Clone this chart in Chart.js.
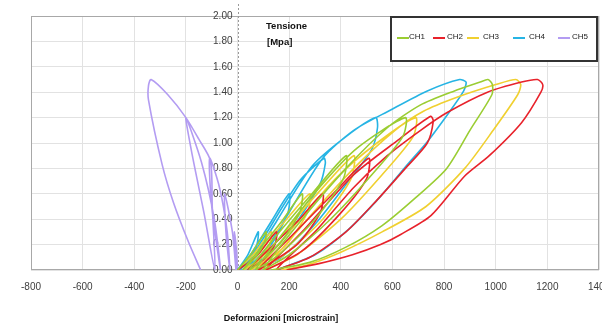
<!DOCTYPE html>
<html><head><meta charset="utf-8">
<script src="https://cdn.jsdelivr.net/npm/chart.js@4.4.1/dist/chart.umd.min.js"></script>
<style>
html,body{margin:0;padding:0;background:#fff;overflow:hidden;width:602px;height:325px;}
#wrap{position:absolute;left:0;top:0;width:612px;height:325px;}
.t{position:absolute;font-family:"Liberation Sans",Arial,sans-serif;color:#111;white-space:nowrap;}
#legend{position:absolute;left:390px;top:16px;width:204px;height:42px;border:2px solid #333;background:#fff;}
.li{position:absolute;top:19px;height:2px;}
.ll{position:absolute;top:14px;font-family:"Liberation Sans",Arial,sans-serif;font-size:8px;color:#222;}
</style></head>
<body>
<div id="wrap"><canvas id="c" width="612" height="325"></canvas></div>
<div class="t" style="left:266px;top:20px;font-size:9.5px;font-weight:bold;">Tensione</div>
<div class="t" style="left:267px;top:36px;font-size:9.5px;font-weight:bold;">[Mpa]</div>
<div class="t" style="left:281px;top:313px;font-size:9px;font-weight:bold;transform:translateX(-50%);">Deformazioni [microstrain]</div>
<div id="legend"></div>
<script>
const seriesNames = ["CH1","CH2","CH3","CH4","CH5"];
const seriesColors = ["#9acd32","#e8222b","#f0d030","#26b4e4","#b39cf2"];
const xTicks = [-800,-600,-400,-200,0,200,400,600,800,1000,1200,1400];
const yTicks = [0,0.2,0.4,0.6,0.8,1.0,1.2,1.4,1.6,1.8,2.0];
const yTickLabels = ["0.00","0.20","0.40","0.60","0.80","1.00","1.20","1.40","1.60","1.80","2.00"];

const ch1 = [[0,0],[50,0.12],[110,0.3],[105,0.22],[70,0.1],[20,0],
 [80,0.15],[170,0.38],[250,0.6],[240,0.45],[160,0.2],[45,0],
 [130,0.22],[280,0.58],[420,0.9],[410,0.72],[300,0.4],[160,0.12],[70,0],
 [180,0.3],[330,0.68],[463,0.96],[650,1.2],[640,1.05],[520,0.75],[360,0.4],[200,0.12],[100,0],
 [230,0.35],[420,0.8],[580,1.12],[709,1.3],[840,1.41],[940,1.48],[970,1.5],[987,1.46],
 [985,1.38],[900,1.1],[810,0.8],[690,0.57],[560,0.35],[420,0.18],[280,0.06],[130,0]];

const ch2 = [[0,0],[70,0.1],[150,0.3],[145,0.2],[100,0.08],[40,0],
 [130,0.18],[240,0.4],[330,0.6],[320,0.45],[230,0.2],[80,0],
 [200,0.25],[370,0.6],[508,0.88],[500,0.72],[400,0.45],[250,0.15],[110,0],
 [250,0.3],[450,0.75],[620,1.02],[748,1.21],[758,1.17],
 [735,1.0],[650,0.8],[540,0.55],[420,0.3],[280,0.1],[150,0],
 [300,0.3],[450,0.65],[580,0.9],[709,1.1],[812,1.24],[968,1.4],[1100,1.48],[1162,1.5],[1182,1.46],
 [1175,1.4],[1100,1.16],[975,0.9],[880,0.74],[750,0.43],[632,0.28],[554,0.2],[445,0.12],[315,0.05],[190,0]];

const ch3 = [[0,0],[60,0.12],[130,0.3],[125,0.2],[80,0.08],[25,0],
 [100,0.18],[190,0.4],[280,0.6],[270,0.45],[180,0.18],[50,0],
 [150,0.22],[300,0.58],[450,0.9],[440,0.72],[330,0.4],[180,0.12],[80,0],
 [200,0.3],[380,0.72],[540,1.0],[690,1.2],[680,1.05],[560,0.75],[400,0.4],[230,0.12],[110,0],
 [250,0.35],[450,0.8],[610,1.1],[720,1.25],[850,1.36],[1000,1.46],[1078,1.5],[1097,1.46],
 [1085,1.38],[990,1.1],[880,0.8],[730,0.5],[560,0.3],[400,0.14],[270,0.04],[170,0]];

const ch4 = [[0,0],[40,0.12],[80,0.3],[75,0.2],[45,0.08],[10,0],
 [60,0.15],[130,0.38],[200,0.6],[195,0.45],[130,0.2],[25,0],
 [100,0.25],[240,0.7],[335,0.88],[340,0.84],[320,0.68],[230,0.38],[120,0.12],[40,0],
 [150,0.38],[290,0.82],[420,1.05],[535,1.2],[542,1.12],[520,0.95],[430,0.7],[300,0.36],[170,0.1],[70,0],
 [190,0.42],[330,0.88],[450,1.1],[593,1.26],[735,1.41],[860,1.5],[885,1.48],
 [876,1.41],[826,1.26],[735,1.01],[658,0.83],[554,0.58],[430,0.32],[300,0.12],[150,0]];

const ch5 = [[0,0],[-4,0.15],[-12,0.3],[-10,0.15],[-6,0],
 [-20,0.3],[-50,0.6],[-45,0.3],[-30,0],
 [-40,0.3],[-70,0.65],[-108,0.88],[-100,0.5],[-66,0],
 [-90,0.4],[-140,0.85],[-200,1.2],[-175,0.9],[-130,0.45],[-88,0],
 [-98,0.5],[-105,0.86],[-150,1.03],[-200,1.2],[-270,1.38],[-335,1.5],[-345,1.45],
 [-345,1.34],[-292,0.83],[-248,0.53],[-190,0.22],[-143,0]];

const seriesData = [ch1,ch2,ch3,ch4,ch5];

// legend
const legendPos = [[397,409],[433,447],[467,483],[513,529],[558,572]];
const lg = document.getElementById('legend');
seriesNames.forEach((n,i)=>{
  const l = document.createElement('div'); l.className='li';
  l.style.left=(legendPos[i][0]-392)+'px'; l.style.width='12px'; l.style.background=seriesColors[i];
  lg.appendChild(l);
  const s = document.createElement('div'); s.className='ll';
  s.style.left=(legendPos[i][1]-392)+'px'; s.textContent=n; lg.appendChild(s);
});

const framePlugin = {
  id:'frame',
  beforeDatasetsDraw(chart){
    const a=chart.chartArea, ctx=chart.ctx;
    const xs=chart.scales.x, ys=chart.scales.y;
    ctx.save(); ctx.strokeStyle='#a8a8a8'; ctx.lineWidth=1;
    ctx.strokeRect(a.left+0.5,a.top+0.5,a.right-a.left-1,a.bottom-a.top-1);
    const x0=Math.round(xs.getPixelForValue(0))+0.5;
    ctx.setLineDash([2,2]); ctx.strokeStyle='#9a9a9a';
    ctx.beginPath(); ctx.moveTo(x0,a.top-12); ctx.lineTo(x0,a.bottom); ctx.stroke();
    ctx.setLineDash([]);
    ctx.fillStyle='#404040'; ctx.font='10px "Liberation Sans", Arial, sans-serif';
    ctx.textAlign='right'; ctx.textBaseline='middle';
    yTicks.forEach((v,i)=>{ ctx.fillText(yTickLabels[i], x0-6, ys.getPixelForValue(v)); });
    ctx.restore();
  }
};

new Chart(document.getElementById('c'),{
  type:'scatter',
  data:{datasets: seriesData.map((d,i)=>({
    label: seriesNames[i],
    data: d.map(p=>({x:p[0],y:p[1]})),
    showLine:true, borderColor: seriesColors[i], backgroundColor: seriesColors[i],
    borderWidth:1.6, pointRadius:0, tension:0.25, fill:false
  }))},
  options:{
    responsive:false, animation:false, devicePixelRatio:1,
    layout:{padding:{left:31,right:13,top:16,bottom:21}},
    plugins:{legend:{display:false},tooltip:{enabled:false}},
    scales:{
      x:{type:'linear',min:-800,max:1400,position:'bottom',
        afterBuildTicks(s){s.ticks=xTicks.map(v=>({value:v}));},
        afterFit(s){s.paddingLeft=0;s.paddingRight=0;},
        grid:{color:'#e2e2e2',drawTicks:false},
        border:{display:false},
        ticks:{padding:11,color:'#404040',font:{family:'"Liberation Sans", Arial, sans-serif',size:10},
          maxRotation:0,autoSkip:false,callback:v=>String(v)}
      },
      y:{type:'linear',min:0,max:2,position:{x:0},
        afterBuildTicks(s){s.ticks=yTicks.map(v=>({value:v}));},
        afterFit(s){s.paddingTop=0;s.paddingBottom=0;},
        grid:{color:'#e2e2e2',drawTicks:false},
        border:{display:false},
        ticks:{display:false}
      }
    }
  },
  plugins:[framePlugin]
});
</script>
</body></html>
